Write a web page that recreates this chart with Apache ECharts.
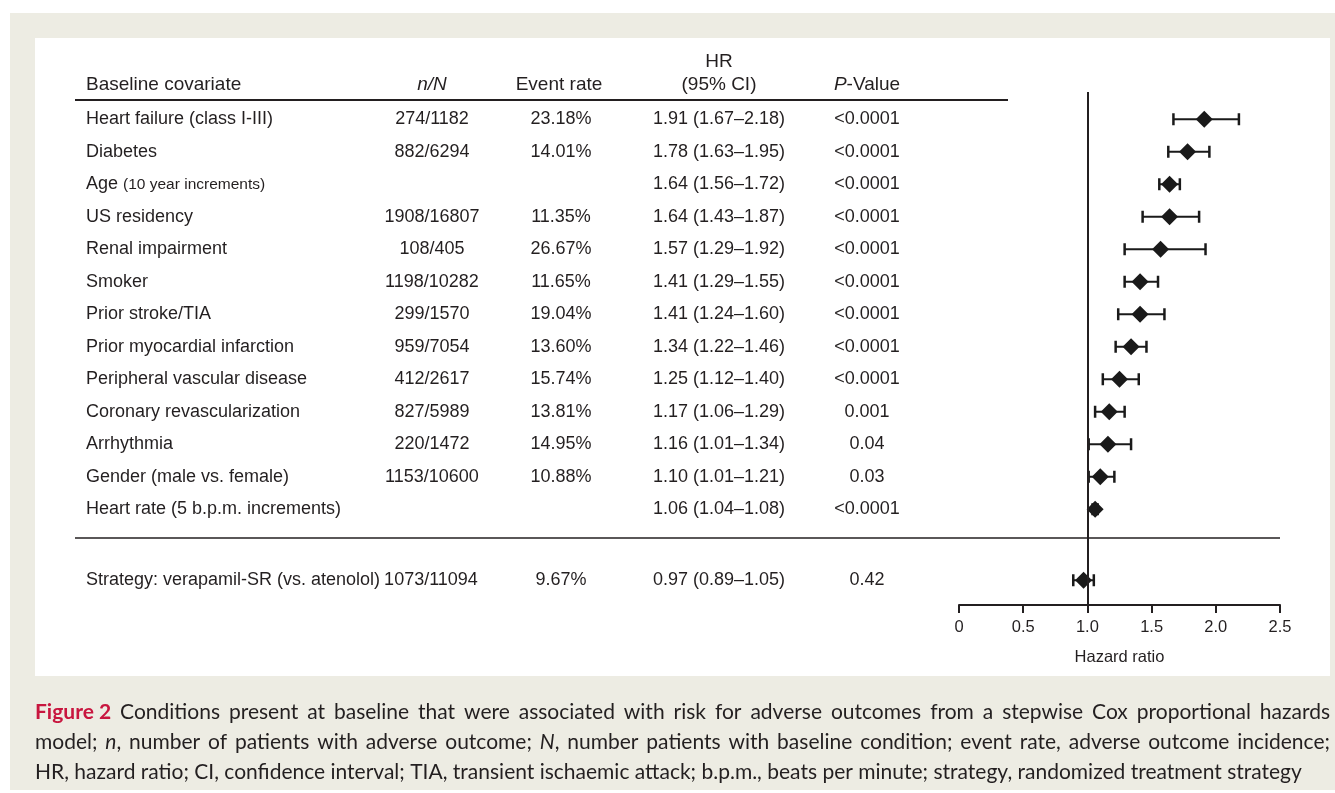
<!DOCTYPE html>
<html>
<head>
<meta charset="utf-8">
<title>Figure 2</title>
<script src="https://cdn.jsdelivr.net/npm/echarts@6/dist/echarts.min.js"></script>
<style>
	html, body { margin: 0; padding: 0; background: #fff; }
	#chart { width: 1335px; height: 793px; }
</style>
</head>
<body>
<div id="chart"></div>
<script>
// data
var covariates = ['Heart failure (class I-III)', 'Diabetes', 'Age {s|(10 year increments)}', 'US residency',
	'Renal impairment', 'Smoker', 'Prior stroke/TIA', 'Prior myocardial infarction', 'Peripheral vascular disease',
	'Coronary revascularization', 'Arrhythmia', 'Gender (male vs. female)', 'Heart rate (5 b.p.m. increments)'];
var nN = ['274/1182', '882/6294', '', '1908/16807', '108/405', '1198/10282', '299/1570', '959/7054',
	'412/2617', '827/5989', '220/1472', '1153/10600', ''];
var eventRate = ['23.18%', '14.01%', '', '11.35%', '26.67%', '11.65%', '19.04%', '13.60%',
	'15.74%', '13.81%', '14.95%', '10.88%', ''];
var hr = [1.91, 1.78, 1.64, 1.64, 1.57, 1.41, 1.41, 1.34, 1.25, 1.17, 1.16, 1.10, 1.06];
var ciLow = [1.67, 1.63, 1.56, 1.43, 1.29, 1.29, 1.24, 1.22, 1.12, 1.06, 1.01, 1.01, 1.04];
var ciHigh = [2.18, 1.95, 1.72, 1.87, 1.92, 1.55, 1.60, 1.46, 1.40, 1.29, 1.34, 1.21, 1.08];
var pValues = ['<0.0001', '<0.0001', '<0.0001', '<0.0001', '<0.0001', '<0.0001', '<0.0001', '<0.0001',
	'<0.0001', '0.001', '0.04', '0.03', '<0.0001'];

// strategy row (below the divider)
var strategyLabel = ['Strategy: verapamil-SR (vs. atenolol)'];
var strategyNN = ['1073/11094'];
var strategyRate = ['9.67%'];
var strategyHR = [0.97];
var strategyLow = [0.89];
var strategyHigh = [1.05];
var strategyP = ['0.42'];

var xTicks = [0, 0.5, 1.0, 1.5, 2.0, 2.5];

var captionLines = [
	'{fig|Figure 2} Conditions present at baseline that were associated with risk for adverse outcomes from a stepwise Cox proportional hazards',
	'model; {i|n}, number of patients with adverse outcome; {i|N}, number patients with baseline condition; event rate, adverse outcome incidence;',
	'HR, hazard ratio; CI, confidence interval; TIA, transient ischaemic attack; b.p.m., beats per minute; strategy, randomized treatment strategy'
];

var FONT = '"Liberation Sans", Arial, sans-serif';
var CAP_FONT = 'Lato, "Open Sans", sans-serif';
var CAP_SIZE = 21;
var INK = '#231f20';
var PLOT_LEFT = 959, PLOT_RIGHT = 55;

var chart = echarts.init(document.getElementById('chart'));

function ciText(h, lo, hi) {
	return h.toFixed(2) + ' (' + lo.toFixed(2) + '\u2013' + hi.toFixed(2) + ')';
}
var hrText = hr.map(function(h, k) { return ciText(h, ciLow[k], ciHigh[k]); });
var strategyHRText = strategyHR.map(function(h, k) { return ciText(h, strategyLow[k], strategyHigh[k]); });

// a text column as a label-only category axis
function column(grid, data, x, align) {
	return {
		type: 'category',
		gridIndex: grid,
		data: data,
		inverse: true,
		position: 'left',
		offset: PLOT_LEFT - x,
		axisLine: { show: false },
		axisTick: { show: false },
		splitLine: { show: false },
		axisLabel: {
			interval: 0,
			margin: 0,
			align: align,
			fontFamily: FONT,
			fontSize: 18,
			color: INK,
			rich: { s: { fontFamily: FONT, fontSize: 15.5, color: INK } }
		}
	};
}

// caption words, justified by measuring with a canvas
var capFonts = {
	fig: 'bold ' + CAP_SIZE + 'px ' + CAP_FONT,
	i: 'italic ' + CAP_SIZE + 'px ' + CAP_FONT,
	n: CAP_SIZE + 'px ' + CAP_FONT
};
var ctx = document.createElement('canvas').getContext('2d');
function measure(word) {
	var w = 0, re = /\{(\w+)\|([^}]*)\}|([^{]+)/g, m;
	while ((m = re.exec(word))) {
		if (m[1]) { ctx.font = capFonts[m[1]]; w += ctx.measureText(m[2]).width; }
		else { ctx.font = capFonts.n; w += ctx.measureText(m[3]).width; }
	}
	return w;
}
function captionGraphics() {
	var out = [];
	var x0 = 35, x1 = 1330;
	captionLines.forEach(function(line, li) {
		var words = line.replace('{fig|Figure 2}', '{fig|Figure\u00a02}').split(' ');
		var widths = words.map(measure);
		var total = widths.reduce(function(a, b) { return a + b; }, 0);
		ctx.font = capFonts.n;
		var space = ctx.measureText(' ').width;
		if (li < captionLines.length - 1) space = (x1 - x0 - total) / (words.length - 1);
		var x = x0;
		words.forEach(function(w, k) {
			out.push({
				type: 'text', x: x, y: 712 + li * 30,
				style: {
					text: w, fill: INK,
					fontFamily: CAP_FONT, fontSize: CAP_SIZE,
					verticalAlign: 'middle', align: 'left',
					rich: {
						fig: { fontFamily: CAP_FONT, fontSize: CAP_SIZE, fontWeight: 'bold', fill: '#c8163f' },
						i: { fontFamily: CAP_FONT, fontSize: CAP_SIZE, fontStyle: 'italic', fill: INK }
					}
				}
			});
			x += widths[k] + space;
		});
	});
	return out;
}

function header(text, x, y, align) {
	return {
		type: 'text', x: x, y: y, z: 10,
		style: {
			text: text, fill: INK, fontFamily: FONT, fontSize: 19,
			align: align, verticalAlign: 'middle',
			rich: { i: { fontFamily: FONT, fontSize: 19, fontStyle: 'italic', fill: INK } }
		}
	};
}

function errorBars(params, api) {
	var lo = api.coord([api.value(0), api.value(2)]);
	var hi = api.coord([api.value(1), api.value(2)]);
	var cap = 6;
	var st = { stroke: '#1a1a1a', lineWidth: 2 };
	var capSt = { stroke: '#1a1a1a', lineWidth: 2.5 };
	return {
		type: 'group',
		children: [
			{ type: 'line', shape: { x1: lo[0], y1: lo[1], x2: hi[0], y2: hi[1] }, style: st },
			{ type: 'line', shape: { x1: lo[0], y1: lo[1] - cap, x2: lo[0], y2: lo[1] + cap }, style: capSt },
			{ type: 'line', shape: { x1: hi[0], y1: hi[1] - cap, x2: hi[0], y2: hi[1] + cap }, style: capSt }
		]
	};
}

var rowIdx = covariates.map(function(c, i) { return i; });
var hiddenX = function(grid) {
	return { type: 'value', gridIndex: grid, min: 0, max: 2.5, show: false };
};
var diamondStyle = { color: '#1a1a1a', opacity: 1 };

var option = {
	animation: false,
	backgroundColor: '#ffffff',
	graphic: [
		{ type: 'rect', z: -20, shape: { x: 10, y: 13, width: 1325, height: 777 }, style: { fill: '#edece3' } },
		{ type: 'rect', z: -10, shape: { x: 35, y: 38, width: 1295, height: 638 }, style: { fill: '#ffffff' } },
		header('Baseline covariate', 86, 85, 'left'),
		header('{i|n/N}', 432, 85, 'center'),
		header('Event rate', 559, 85, 'center'),
		header('HR', 719, 62, 'center'),
		header('(95% CI)', 719, 85, 'center'),
		header('{i|P}-Value', 867, 85, 'center'),
		{ type: 'line', z: 10, shape: { x1: 75, y1: 100, x2: 1008, y2: 100 }, style: { stroke: INK, lineWidth: 2 } },
		{ type: 'line', z: 10, shape: { x1: 75, y1: 538, x2: 1280, y2: 538 }, style: { stroke: INK, lineWidth: 1.5 } }
	].concat(captionGraphics()),
	grid: [
		{ left: PLOT_LEFT, right: PLOT_RIGHT, top: 103, height: 422.5, outerBoundsMode: 'none' },
		{ left: PLOT_LEFT, right: PLOT_RIGHT, top: 564, height: 32.5, outerBoundsMode: 'none' },
		{ left: PLOT_LEFT, right: PLOT_RIGHT, top: 92, bottom: 188, outerBoundsMode: 'none' }
	],
	xAxis: [
		hiddenX(0),
		hiddenX(1),
		{
			type: 'value', gridIndex: 2, min: 0, max: 2.5, interval: 0.5,
			axisLine: { show: true, lineStyle: { color: INK, width: 2 } },
			axisTick: { show: true, length: 8, lineStyle: { color: INK, width: 2 } },
			splitLine: { show: false },
			axisLabel: {
				margin: 14, fontFamily: FONT, fontSize: 16.5, color: INK,
				formatter: function(v) { return xTicks.indexOf(v) === 0 ? '0' : v.toFixed(1); }
			},
			name: 'Hazard ratio', nameLocation: 'middle', nameGap: 44,
			nameTextStyle: { fontFamily: FONT, fontSize: 16.5, color: INK }
		}
	],
	yAxis: [
		column(0, covariates, 86, 'left'),
		column(0, nN, 432, 'center'),
		column(0, eventRate, 561, 'center'),
		column(0, hrText, 719, 'center'),
		column(0, pValues, 867, 'center'),
		column(1, strategyLabel, 86, 'left'),
		column(1, strategyNN, 431, 'center'),
		column(1, strategyRate, 561, 'center'),
		column(1, strategyHRText, 719, 'center'),
		column(1, strategyP, 867, 'center'),
		{ type: 'value', gridIndex: 2, min: 0, max: 1, show: false }
	],
	series: [
		{
			type: 'custom', xAxisIndex: 0, yAxisIndex: 0,
			renderItem: errorBars,
			encode: { x: [0, 1], y: 2 },
			data: rowIdx.map(function(i) { return [ciLow[i], ciHigh[i], i]; })
		},
		{
			type: 'scatter', xAxisIndex: 0, yAxisIndex: 0,
			symbol: 'diamond', symbolSize: [17, 17],
			itemStyle: diamondStyle,
			data: rowIdx.map(function(i) { return [hr[i], i]; })
		},
		{
			type: 'custom', xAxisIndex: 1, yAxisIndex: 5,
			renderItem: errorBars,
			encode: { x: [0, 1], y: 2 },
			data: strategyHR.map(function(h, i) { return [strategyLow[i], strategyHigh[i], i]; })
		},
		{
			type: 'scatter', xAxisIndex: 1, yAxisIndex: 5,
			symbol: 'diamond', symbolSize: [17, 17],
			itemStyle: diamondStyle,
			data: strategyHR.map(function(h, i) { return [h, i]; })
		},
		{
			type: 'scatter', xAxisIndex: 2, yAxisIndex: 10,
			data: [],
			markLine: {
				silent: true, symbol: 'none',
				label: { show: false },
				lineStyle: { color: INK, width: 2, type: 'solid' },
				data: [{ xAxis: 1 }]
			}
		}
	]
};
chart.setOption(option);
</script>
</body>
</html>
